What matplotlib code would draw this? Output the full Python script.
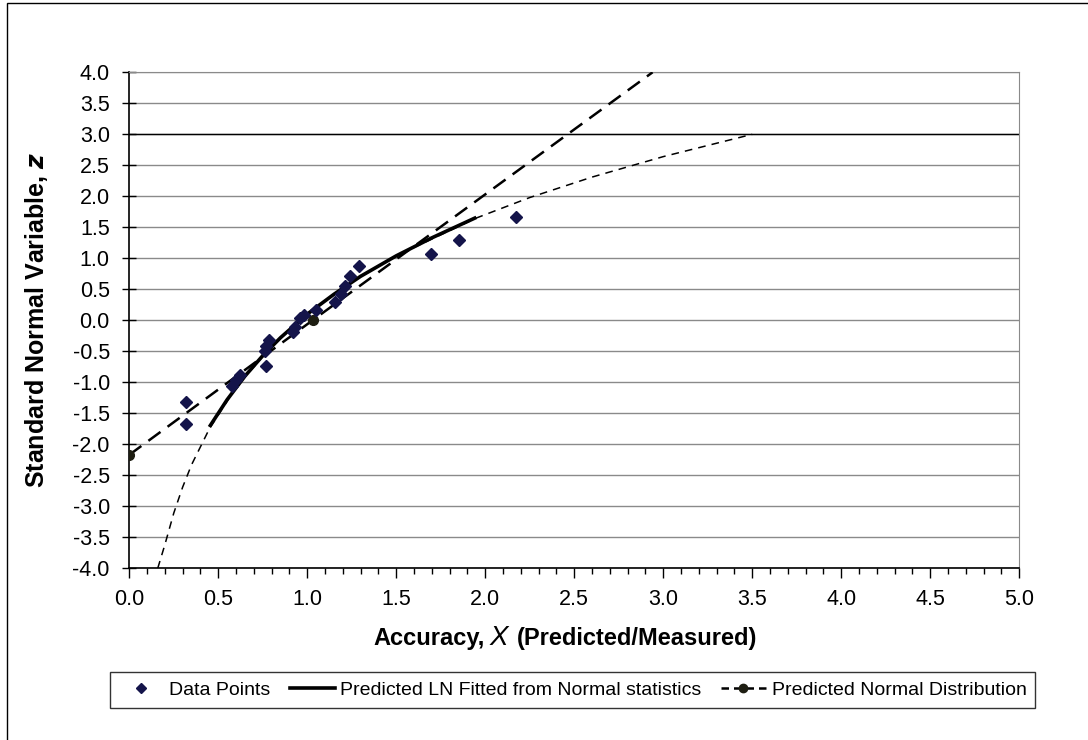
import numpy as np
import matplotlib.pyplot as plt
from matplotlib.lines import Line2D
from matplotlib.patches import Rectangle

plt.rcParams['font.family'] = ['Liberation Sans', 'DejaVu Sans']

# Puntos de datos (precision X vs variable normal estandar z)
x_data = [0.32, 0.32, 0.575, 0.60, 0.62, 0.766, 0.762, 0.77, 0.787, 0.92, 0.93,
          0.96, 0.98, 1.05, 1.156, 1.19, 1.21, 1.24, 1.29, 1.695, 1.85, 2.17]
z_data = [-1.31, -1.67, -1.06, -0.97, -0.89, -0.73, -0.50, -0.42, -0.31, -0.19, -0.10,
          0.04, 0.08, 0.16, 0.29, 0.43, 0.55, 0.71, 0.88, 1.07, 1.30, 1.66]

# LN ajustada (tramo grueso)
x_ln = [0.45, 0.55, 0.65, 0.75, 0.85, 1.0, 1.15, 1.3, 1.5, 1.7, 1.95]
z_ln = [-1.72, -1.28, -0.90, -0.57, -0.28, 0.10, 0.42, 0.71, 1.04, 1.33, 1.66]

# LN extendida (linea fina discontinua)
x_ln_ext = [0.16, 0.2, 0.25, 0.3, 0.35, 0.45, 0.6, 0.8, 1.0, 1.25, 1.5, 1.95,
            2.25, 2.6, 3.0, 3.5]
z_ln_ext = [-4.0, -3.62, -3.11, -2.69, -2.33, -1.75, -1.08, -0.42, 0.10, 0.62,
            1.04, 1.65, 1.98, 2.31, 2.64, 3.00]

# Distribucion normal predicha
x_norm = [0.0, 1.03, 2.94]
z_norm = [-2.17, 0.0, 4.0]

fig = plt.figure(figsize=(10.88, 7.40), dpi=100)
ax = fig.add_axes([0.1188, 0.232, 0.818, 0.6703])

# marco exterior
fig.patches.append(Rectangle((7 / 1088, -0.1), 1.2, 1.1 - 3 / 740, transform=fig.transFigure,
                             fill=False, edgecolor='black', linewidth=1.0))

for yv in np.arange(-4.0, 4.01, 0.5):
    ax.axhline(yv, color='#8a8a8a', linewidth=1.0, zorder=1)
ax.axhline(3.0, color='black', linewidth=1.0, zorder=1)

ax.plot(x_ln_ext, z_ln_ext, color='black', linewidth=1.1, dashes=(5, 4), zorder=2)
ax.plot(x_norm, z_norm, color='black', linewidth=1.8, dashes=(6, 3.5), zorder=3,
        marker='o', markevery=[0, 1], markersize=7, markerfacecolor='#1e1e12',
        markeredgecolor='#1e1e12', clip_on=True)
ax.plot(x_ln, z_ln, color='black', linewidth=2.6, zorder=4, solid_capstyle='butt')
ax.plot(x_data, z_data, linestyle='none', marker='D', markersize=6,
        color='#14144a', zorder=5)

ax.set_xlim(0, 5.0)
ax.set_ylim(-4.0, 4.0)
ax.set_xticks(np.arange(0, 5.01, 0.5))
ax.set_xticks(np.arange(0, 5.01, 0.1), minor=True)
ax.set_yticks(np.arange(-4.0, 4.01, 0.5))
ax.xaxis.set_major_formatter(plt.FormatStrFormatter('%.1f'))
ax.yaxis.set_major_formatter(plt.FormatStrFormatter('%.1f'))
ax.tick_params(axis='x', which='major', direction='out', length=7, width=1, labelsize=15.5, pad=8)
ax.tick_params(axis='x', which='minor', direction='out', length=4, width=1)
ax.tick_params(axis='y', which='major', direction='inout', length=10, width=1, labelsize=15.5, pad=9)

for s in ['top', 'right']:
    ax.spines[s].set_color('#8a8a8a')
for s in ['left', 'bottom']:
    ax.spines[s].set_color('black')
    ax.spines[s].set_linewidth(1.2)

ax.set_ylabel('Standard Normal Variable, $\\mathbfit{z}$', fontsize=18, fontweight='bold')
ax.yaxis.set_label_coords(-0.089, 0.5)

# titulo del eje x en tres piezas (X en cursiva)
renderer = fig.canvas.get_renderer()
y_base = 0.1284
t1 = fig.text(373 / 1088, y_base, 'Accuracy,', fontsize=17, fontweight='bold',
              ha='left', va='baseline')
x_next = t1.get_window_extent(renderer).x1 + 5
t2 = fig.text(x_next / 1088, y_base, 'X', fontsize=20, style='italic',
              ha='left', va='baseline')
x_next = t2.get_window_extent(renderer).x1 + 9
fig.text(x_next / 1088, y_base, '(Predicted/Measured)', fontsize=17, fontweight='bold',
         ha='left', va='baseline')

handles = [
    Line2D([], [], linestyle='none', marker='D', markersize=5, color='#14144a'),
    Line2D([], [], color='black', linewidth=2.6),
    Line2D([], [], color='black', linewidth=1.8, dashes=(3, 2), marker='o',
           markersize=6, markerfacecolor='#1e1e12', markeredgecolor='#1e1e12'),
]
labels = ['Data Points', 'Predicted LN Fitted from Normal statistics',
          'Predicted Normal Distribution']
leg = fig.legend(handles, labels, loc='center', bbox_to_anchor=(0.5262, 0.0676), ncol=3,
                 fontsize=14, frameon=True, fancybox=False, edgecolor='black',
                 handlelength=2.3, columnspacing=1.0, handletextpad=0.3,
                 borderpad=0.45)
leg.get_frame().set_linewidth(1.0)

fig.savefig('out.png', dpi=100)
